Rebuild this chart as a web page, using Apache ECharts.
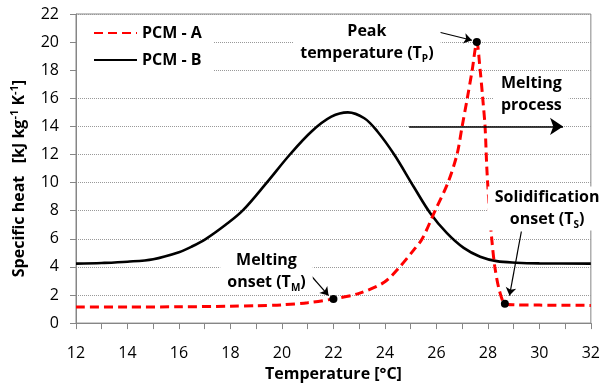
<!DOCTYPE html>
<html>
<head>
<meta charset="utf-8">
<script src="https://cdn.jsdelivr.net/npm/echarts@6/dist/echarts.min.js"></script>
<style>
  html, body { margin: 0; padding: 0; background: #fff; }
  #chart { width: 603px; height: 387px; }
</style>
</head>
<body>
<div id="chart"></div>
<script>
// PCM - A (red dashed)
const tempA = [12, 14, 16, 18, 19, 20, 21, 22, 22.94, 23.97, 24.55, 25.13, 25.45, 25.95, 26.45, 26.8, 27.0, 27.2, 27.39, 27.57, 27.7, 27.8, 27.89, 27.96, 28.06, 28.15, 28.27, 28.45, 28.66, 29, 30, 32];
const heatA = [1.15, 1.15, 1.16, 1.2, 1.24, 1.3, 1.45, 1.72, 2.08, 2.9, 3.95, 5.23, 6.0, 8.0, 10.0, 12.0, 14.0, 16.0, 18.0, 20.0, 18.0, 16.0, 14.0, 11.0, 8.0, 6.0, 4.0, 2.3, 1.38, 1.3, 1.28, 1.26];

// PCM - B (black solid)
const tempB = [12, 13, 14, 15, 16, 16.5, 17.05, 17.8, 18.47, 19.41, 20.31, 21.15, 21.92, 22.56, 23.2, 23.71, 24.36, 25.13, 25.77, 26.41, 27.06, 27.7, 28.34, 29.1, 30, 32];
const heatB = [4.23, 4.28, 4.37, 4.55, 5.05, 5.45, 6.0, 6.98, 8.0, 10.0, 12.0, 13.64, 14.69, 15.0, 14.58, 13.64, 12.0, 9.67, 7.8, 6.4, 5.35, 4.72, 4.41, 4.3, 4.25, 4.23];

// marked points: melting onset, peak, solidification onset
const markTemp = [22, 27.57, 28.66];
const markHeat = [1.72, 20.0, 1.38];

// arrows [from, to] in data coords
const arrows = [
    [[25.26, 21.09], [27.38, 20.13]],
    [[24.94, 14.0], [30.92, 14.0]],
    [[29.3, 6.52], [28.84, 1.96]],
    [[20.94, 3.78], [21.81, 1.96]]
];

// annotation texts, centred at data coords
const notes = [
    { text: 'Peak\ntemperature (T{s|P})', at: [23.3, 20.0] },
    { text: 'Melting\nprocess', at: [29.69, 16.26] },
    { text: 'Solidification\nonset (T{s|S})', at: [30.3, 8.15] },
    { text: 'Melting\nonset (T{s|M})', at: [19.4, 3.7] }
];

const FONT = '"Open Sans", "Noto Sans", sans-serif';
const AXIS_GRAY = '#868686';

const zip = (xs, ys) => xs.map((x, i) => [x, ys[i]]);

const chart = echarts.init(document.getElementById('chart'));

const option = {
    animation: false,
    grid: { left: 76, right: 8, top: 14, bottom: 59, show: true, borderColor: AXIS_GRAY, borderWidth: 1 },
    legend: {
        data: ['PCM - A', 'PCM - B'],
        orient: 'vertical',
        left: 77, top: 19,
        itemWidth: 43, itemHeight: 12, itemGap: 11,
        backgroundColor: '#fff',
        padding: [6, 12, 6, 16],
        itemStyle: { opacity: 0 },
        textStyle: { fontFamily: FONT, fontWeight: 'bold', fontSize: 16, color: '#000' }
    },
    xAxis: {
        type: 'value', min: 12, max: 32, interval: 2,
        name: 'Temperature [°C]', nameLocation: 'middle', nameGap: 35,
        nameTextStyle: { fontFamily: FONT, fontWeight: 'bold', fontSize: 16, color: '#000' },
        axisLine: { lineStyle: { color: AXIS_GRAY } },
        axisTick: { length: 6, lineStyle: { color: AXIS_GRAY } },
        minorTick: { show: true, splitNumber: 2, length: 6, lineStyle: { color: AXIS_GRAY } },
        splitLine: { show: false },
        axisLabel: { fontFamily: FONT, fontSize: 16, color: '#000', margin: 22 }
    },
    yAxis: {
        type: 'value', min: 0, max: 22, interval: 2,
        name: 'Specific heat   [kJ kg{sup|-1} K{sup|-1}]', nameLocation: 'middle', nameGap: 44,
        nameTextStyle: {
            fontFamily: FONT, fontWeight: 'bold', fontSize: 16, lineHeight: 20, color: '#000',
            padding: [0, 20, 0, 0],
            rich: { sup: { fontFamily: FONT, fontWeight: 'bold', fontSize: 11, lineHeight: 14, verticalAlign: 'top', color: '#000' } }
        },
        axisLine: { show: true, lineStyle: { color: AXIS_GRAY } },
        axisTick: { show: true, length: 6, lineStyle: { color: AXIS_GRAY } },
        splitLine: { lineStyle: { color: '#999', type: 'dotted', width: 1 } },
        axisLabel: { fontFamily: FONT, fontSize: 16, color: '#000', margin: 17 }
    },
    series: [
        {
            name: 'PCM - A', type: 'line', data: zip(tempA, heatA),
            symbol: 'none', smooth: 0.3,
            lineStyle: { color: '#ff0000', width: 3, type: [9, 5] },
            itemStyle: { color: '#ff0000' }, z: 3
        },
        {
            name: 'PCM - B', type: 'line', data: zip(tempB, heatB),
            symbol: 'none', smooth: 0.35,
            lineStyle: { color: '#000', width: 2.6 },
            itemStyle: { color: '#000' }, z: 2
        },
        {
            name: 'marks', type: 'scatter', data: zip(markTemp, markHeat),
            symbol: 'circle', symbolSize: 8, itemStyle: { color: '#000', opacity: 1 }, z: 4,
            markLine: {
                silent: true, animation: false,
                symbol: ['none', 'arrow'], symbolSize: 8,
                label: { show: false },
                lineStyle: { color: '#000', width: 1.2, type: 'solid' },
                data: arrows.map((a, i) => [
                    { coord: a[0] },
                    { coord: a[1], symbolSize: i === 1 ? 13 : 8, lineStyle: { width: i === 1 ? 1.6 : 1.2 } }
                ])
            }
        }
    ]
};

chart.setOption(option);

// annotation boxes, placed via the axis scales
chart.setOption({
    graphic: notes.map(n => {
        const p = chart.convertToPixel({ gridIndex: 0 }, n.at);
        return {
            type: 'text', x: p[0], y: p[1], z: 10, silent: true,
            style: {
                text: n.text,
                align: 'center', verticalAlign: 'middle',
                fontFamily: FONT, fontWeight: 'bold', fontSize: 16, lineHeight: 22,
                fill: '#000', backgroundColor: '#fff', padding: [0, 7],
                rich: {
                    s: { fontFamily: FONT, fontWeight: 'bold', fontSize: 10, lineHeight: 13, verticalAlign: 'bottom', fill: '#000' }
                }
            }
        };
    })
});
</script>
</body>
</html>
